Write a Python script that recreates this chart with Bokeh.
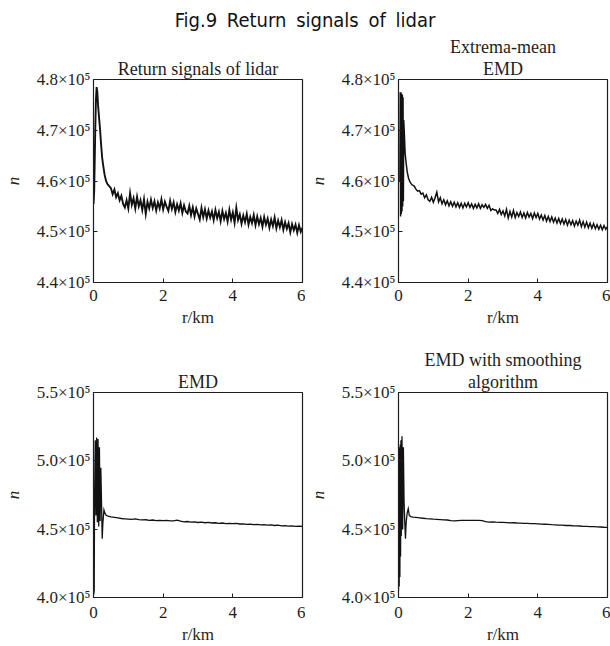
from bokeh.plotting import figure
from bokeh.layouts import column, row
from bokeh.models import Div, FixedTicker, Title
from bokeh.embed import file_html
from bokeh.resources import INLINE

# ---------------- data (n in units of 10^5, r in km) ----------------
r_raw = [0.00, 0.02, 0.03, 0.05, 0.07, 0.09, 0.11, 0.13, 0.16, 0.19, 0.22, 0.25, 0.28, 0.32, 0.36, 0.40, 0.45,
         0.50, 0.55, 0.60, 0.65, 0.70, 0.75, 0.80, 0.85, 0.90, 0.95, 1.00, 1.05, 1.10, 1.15, 1.20, 1.25, 1.30,
         1.35, 1.40, 1.45, 1.50, 1.55, 1.60, 1.65, 1.70, 1.75, 1.80, 1.85, 1.90, 1.95, 2.00, 2.05, 2.10, 2.15,
         2.20, 2.25, 2.30, 2.35, 2.40, 2.45, 2.50, 2.55, 2.60, 2.65, 2.70, 2.75, 2.80, 2.85, 2.90, 2.95, 3.00,
         3.05, 3.10, 3.15, 3.20, 3.25, 3.30, 3.35, 3.40, 3.45, 3.50, 3.55, 3.60, 3.65, 3.70, 3.75, 3.80, 3.85,
         3.90, 3.95, 4.00, 4.05, 4.10, 4.15, 4.20, 4.25, 4.30, 4.35, 4.40, 4.45, 4.50, 4.55, 4.60, 4.65, 4.70,
         4.75, 4.80, 4.85, 4.90, 4.95, 5.00, 5.05, 5.10, 5.15, 5.20, 5.25, 5.30, 5.35, 5.40, 5.45, 5.50, 5.55,
         5.60, 5.65, 5.70, 5.75, 5.80, 5.85, 5.90, 5.95, 6.00]
n_raw = [4.555, 4.580, 4.620, 4.700, 4.760, 4.785, 4.775, 4.750, 4.725, 4.700, 4.670, 4.645, 4.630, 4.612, 4.600, 4.594, 4.590,
         4.586, 4.574, 4.583, 4.568, 4.576, 4.562, 4.571, 4.555, 4.548, 4.562, 4.546, 4.576, 4.553, 4.566, 4.546, 4.569, 4.550,
         4.562, 4.543, 4.564, 4.535, 4.559, 4.546, 4.563, 4.547, 4.560, 4.542, 4.558, 4.546, 4.564, 4.544, 4.559, 4.549, 4.541,
         4.561, 4.545, 4.558, 4.539, 4.554, 4.542, 4.556, 4.537, 4.552, 4.540, 4.536, 4.551, 4.533, 4.548, 4.530, 4.546, 4.535,
         4.524, 4.547, 4.529, 4.544, 4.526, 4.542, 4.528, 4.540, 4.523, 4.543, 4.527, 4.539, 4.521, 4.541, 4.525, 4.537, 4.520,
         4.543, 4.524, 4.538, 4.518, 4.547, 4.523, 4.534, 4.516, 4.532, 4.519, 4.535, 4.514, 4.529, 4.517, 4.533, 4.513, 4.530,
         4.515, 4.527, 4.510, 4.529, 4.514, 4.526, 4.508, 4.524, 4.511, 4.528, 4.507, 4.522, 4.509, 4.523, 4.504, 4.519, 4.506,
         4.517, 4.499, 4.515, 4.503, 4.514, 4.498, 4.513, 4.500, 4.508]

r_extrema = [0.04, 0.05, 0.06, 0.07, 0.08, 0.09, 0.10, 0.11, 0.12, 0.13, 0.14, 0.15, 0.17, 0.19, 0.22, 0.25, 0.29, 0.33, 0.38,
             0.45, 0.50, 0.55, 0.60, 0.65, 0.70, 0.75, 0.80, 0.85, 0.90, 0.95, 1.00, 1.05, 1.10, 1.15, 1.20, 1.25, 1.30,
             1.35, 1.40, 1.45, 1.50, 1.55, 1.60, 1.65, 1.70, 1.75, 1.80, 1.85, 1.90, 1.95, 2.00, 2.05, 2.10, 2.15,
             2.20, 2.25, 2.30, 2.35, 2.40, 2.45, 2.50, 2.55, 2.60, 2.65, 2.70, 2.75, 2.80, 2.85, 2.90, 2.95, 3.00,
             3.05, 3.10, 3.15, 3.20, 3.25, 3.30, 3.35, 3.40, 3.45, 3.50, 3.55, 3.60, 3.65, 3.70, 3.75, 3.80, 3.85,
             3.90, 3.95, 4.00, 4.05, 4.10, 4.15, 4.20, 4.25, 4.30, 4.35, 4.40, 4.45, 4.50, 4.55, 4.60, 4.65, 4.70,
             4.75, 4.80, 4.85, 4.90, 4.95, 5.00, 5.05, 5.10, 5.15, 5.20, 5.25, 5.30, 5.35, 5.40, 5.45, 5.50, 5.55,
             5.60, 5.65, 5.70, 5.75, 5.80, 5.85, 5.90, 5.95, 6.00]
n_extrema = [4.600, 4.775, 4.530, 4.775, 4.535, 4.772, 4.540, 4.770, 4.550, 4.765, 4.560, 4.720, 4.690, 4.655, 4.635, 4.618, 4.605, 4.598, 4.593,
             4.590, 4.584, 4.580, 4.581, 4.574, 4.576, 4.567, 4.573, 4.563, 4.560, 4.568, 4.558, 4.567, 4.578, 4.559, 4.567, 4.555, 4.563,
             4.553, 4.561, 4.551, 4.559, 4.550, 4.558, 4.549, 4.557, 4.548, 4.556, 4.547, 4.556, 4.549, 4.557, 4.548, 4.555, 4.546,
             4.554, 4.547, 4.555, 4.546, 4.553, 4.548, 4.554, 4.546, 4.552, 4.542, 4.545, 4.543, 4.543, 4.536, 4.544, 4.534, 4.541,
             4.531, 4.544, 4.527, 4.540, 4.529, 4.542, 4.528, 4.538, 4.530, 4.539, 4.528, 4.537, 4.527, 4.538, 4.529, 4.536, 4.526,
             4.537, 4.528, 4.536, 4.525, 4.533, 4.523, 4.532, 4.521, 4.530, 4.520, 4.529, 4.519, 4.527, 4.517, 4.526, 4.516, 4.525,
             4.515, 4.524, 4.513, 4.523, 4.514, 4.522, 4.511, 4.521, 4.513, 4.523, 4.510, 4.520, 4.509, 4.519, 4.508, 4.517, 4.507,
             4.516, 4.506, 4.514, 4.505, 4.513, 4.504, 4.512, 4.505, 4.510]

r_emd = [0.00, 0.02, 0.03, 0.05, 0.07, 0.09, 0.11, 0.13, 0.15, 0.17, 0.19, 0.21, 0.23, 0.25, 0.27, 0.30, 0.33, 0.37, 0.42,
         0.5, 0.6, 0.7, 0.8, 0.9, 1.0, 1.1, 1.2, 1.3, 1.4, 1.5, 1.6, 1.7, 1.8, 1.9, 2.0, 2.1, 2.2, 2.3, 2.4, 2.5,
         2.6, 2.7, 2.8, 2.9, 3.0, 3.1, 3.2, 3.3, 3.4, 3.5, 3.6, 3.7, 3.8, 3.9, 4.0, 4.1, 4.2, 4.3, 4.4, 4.5,
         4.6, 4.7, 4.8, 4.9, 5.0, 5.1, 5.2, 5.3, 5.4, 5.5, 5.6, 5.7, 5.8, 5.9, 6.0]
n_emd = [4.02, 4.05, 4.70, 5.15, 4.60, 5.17, 4.55, 5.16, 4.52, 5.10, 4.56, 4.95, 4.70, 4.43, 4.55, 4.64, 4.615, 4.600, 4.595,
         4.590, 4.586, 4.582, 4.578, 4.576, 4.574, 4.572, 4.575, 4.570, 4.568, 4.569, 4.565, 4.567, 4.563, 4.564, 4.562, 4.565,
         4.561, 4.560, 4.566, 4.558, 4.554, 4.556, 4.552, 4.553, 4.549, 4.552, 4.547, 4.549, 4.545, 4.547, 4.543, 4.545, 4.541,
         4.543, 4.540, 4.542, 4.538, 4.539, 4.535, 4.537, 4.533, 4.535, 4.531, 4.533, 4.529, 4.531, 4.527, 4.529, 4.524, 4.526,
         4.522, 4.524, 4.521, 4.522, 4.520]

r_smooth = [0.00, 0.01, 0.02, 0.03, 0.04, 0.05, 0.06, 0.07, 0.08, 0.10, 0.12, 0.14, 0.16, 0.18, 0.20, 0.22, 0.25, 0.28, 0.31, 0.35, 0.42,
            0.5, 0.6, 0.7, 0.8, 0.9, 1.0, 1.1, 1.2, 1.3, 1.4, 1.5, 1.6, 1.7, 1.8, 1.9, 2.0, 2.1, 2.2, 2.3, 2.4, 2.5,
            2.6, 2.7, 2.8, 2.9, 3.0, 3.1, 3.2, 3.3, 3.4, 3.5, 3.6, 3.7, 3.8, 3.9, 4.0, 4.1, 4.2, 4.3, 4.4, 4.5,
            4.6, 4.7, 4.8, 4.9, 5.0, 5.1, 5.2, 5.3, 5.4, 5.5, 5.6, 5.7, 5.8, 5.9, 6.0]
n_smooth = [4.05, 5.05, 4.08, 5.10, 4.15, 5.12, 4.30, 5.15, 4.45, 5.18, 4.50, 5.10, 4.70, 4.55, 4.43, 4.55, 4.62, 4.65, 4.60, 4.592, 4.588,
            4.586, 4.583, 4.580, 4.577, 4.575, 4.573, 4.572, 4.570, 4.568, 4.567, 4.562, 4.560, 4.563, 4.564, 4.565, 4.564, 4.565,
            4.564, 4.565, 4.563, 4.555, 4.552, 4.553, 4.551, 4.550, 4.549, 4.548, 4.546, 4.547, 4.545, 4.544, 4.543, 4.542, 4.541,
            4.540, 4.539, 4.537, 4.536, 4.535, 4.533, 4.532, 4.530, 4.529, 4.527, 4.528, 4.525, 4.524, 4.523, 4.521, 4.520, 4.519,
            4.518, 4.517, 4.516, 4.514, 4.513]

x_ticks = [0, 2, 4, 6]
top_ticks = [4.4, 4.5, 4.6, 4.7, 4.8]
top_tick_labels = ["4.4×10⁵", "4.5×10⁵", "4.6×10⁵", "4.7×10⁵", "4.8×10⁵"]
bottom_ticks = [4.0, 4.5, 5.0, 5.5]
bottom_tick_labels = ["4.0×10⁵", "4.5×10⁵", "5.0×10⁵", "5.5×10⁵"]

titles = [["Return signals of lidar"], ["Extrema-mean", "EMD"], ["EMD"], ["EMD with smoothing", "algorithm"]]
main_title = "Fig.9 Return signals of lidar"

SERIF = "Liberation Serif"
FS = "17px"
INK = "#1e1e1e"


def make(title_lines, r, n, yticks, ylabels, ylim, width, height, bl, br, bt, bb, lw, xls, xas):
    p = figure(width=width, height=height, x_range=(0, 6), y_range=ylim, title=None,
               output_backend="svg", toolbar_location=None,
               min_border_left=bl, min_border_right=br, min_border_top=bt, min_border_bottom=bb)
    # lines nearest the frame are added first
    for k, line in enumerate(reversed(title_lines)):
        p.add_layout(Title(text=line, align="center", text_font=SERIF, text_font_size="18px",
                           text_font_style="normal", text_color=INK,
                           standoff=1 if k == 0 else 0, offset=0), "above")
    p.xgrid.visible = False
    p.ygrid.visible = False
    p.outline_line_color = INK
    p.outline_line_width = 1.2
    p.outline_line_alpha = 1.0
    p.background_fill_color = "white"
    p.border_fill_color = "white"

    p.xaxis.ticker = FixedTicker(ticks=x_ticks)
    p.yaxis.ticker = FixedTicker(ticks=yticks)
    p.yaxis.major_label_overrides = {t: lab for t, lab in zip(yticks, ylabels)}
    for ax in (p.xaxis[0], p.yaxis[0]):
        ax.axis_line_color = INK
        ax.major_tick_line_color = INK
        ax.major_tick_in = 4
        ax.major_tick_out = 0
        ax.minor_tick_in = 0
        ax.minor_tick_out = 0
        ax.major_label_text_font = SERIF
        ax.major_label_text_font_size = FS
        ax.major_label_text_color = INK
        ax.axis_label_text_font = SERIF
        ax.axis_label_text_font_size = FS
        ax.axis_label_text_color = INK
        ax.axis_label_text_line_height = 1.0
        ax.major_label_text_line_height = 1.0
    p.xaxis[0].axis_label = "r/km"
    p.xaxis[0].axis_label_text_font_style = "normal"
    p.xaxis[0].major_label_standoff = xls
    p.xaxis[0].axis_label_standoff = xas
    p.yaxis[0].axis_label = "n"
    p.yaxis[0].axis_label_text_font_style = "italic"
    p.yaxis[0].major_label_standoff = 3
    p.yaxis[0].axis_label_standoff = 11

    p.line(r, n, line_color="#111111", line_width=lw, line_join="miter")
    return p


p1 = make(titles[0], r_raw, n_raw, top_ticks, top_tick_labels, (4.4, 4.8), 305, 300, 90, 3, 44, 52, 1.9, 7, 4)
p2 = make(titles[1], r_extrema, n_extrema, top_ticks, top_tick_labels, (4.4, 4.8), 305, 300, 91, 3, 44, 52, 1.5, 7, 4)
p3 = make(titles[2], r_emd, n_emd, bottom_ticks, bottom_tick_labels, (4.0, 5.5), 305, 312, 90, 3, 58, 49, 1.3, 9, 4)
p4 = make(titles[3], r_smooth, n_smooth, bottom_ticks, bottom_tick_labels, (4.0, 5.5), 305, 312, 91, 3, 58, 49, 1.3, 9, 4)

head = Div(text=('<div style="width:610px;text-align:center;font-family:\'Liberation Sans Narrow\',\'DejaVu Sans Condensed\',\'Liberation Sans\',sans-serif;'
                 'font-size:20px;word-spacing:4px;color:#111;padding-top:6px;">' + main_title + '</div>'),
           width=610, height=34, margin=(0, 0, 0, 0))

layout = column(head, row(p1, p2, spacing=0), row(p3, p4, spacing=0), spacing=0)

open("out.html", "w").write(file_html(layout, INLINE))
